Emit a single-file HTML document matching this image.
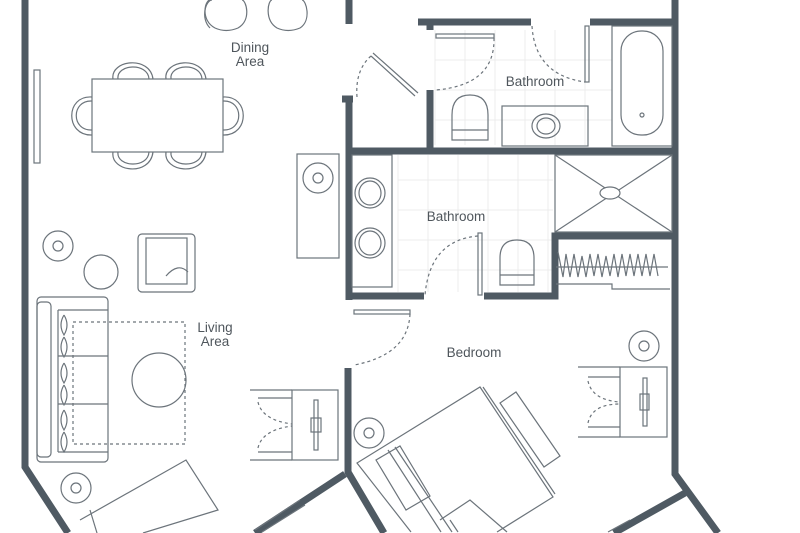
<!DOCTYPE html>
<html><head><meta charset="utf-8"><style>
html,body{margin:0;padding:0;background:#fff;width:800px;height:533px;overflow:hidden;}
svg{display:block;}
text{font-family:"Liberation Sans",sans-serif;font-size:13.5px;fill:#4f565c;text-anchor:middle;}
</style></head><body>
<svg width="800" height="533" viewBox="0 0 800 533" xmlns="http://www.w3.org/2000/svg" overflow="hidden">
<g stroke="#ececec" stroke-width="1">
<path d="M435 30V145M465 30V145M495 30V145M525 30V145M555 30V145M585 30V145M435 60H612M435 90H612M435 120H612"/>
<path d="M398 155V292M428 155V292M458 155V292M488 155V292M518 155V292M548 155V292M398 180H553M398 210H553M398 240H553M398 270H553"/>
</g>
<g fill="none" stroke="#4f5a63" stroke-width="7" stroke-linejoin="miter">
<path d="M25 0V467L68 533"/>
<path d="M349 0V24"/>
<path d="M418 22H531M590 22H676"/>
<path d="M675 0V474L718 533"/>
<path d="M685 493L614 533"/>
<path d="M349 97V300M342 99H353"/>
<path d="M430 22V30M430 90V148"/>
<path d="M349 151H675"/>
<path d="M349 296H424M484 296H555V236H675"/>
<path d="M348 368V472L384 533"/>
<path d="M345 474L255 533"/>
</g>
<g fill="none" stroke="#6c747b" stroke-width="1.2">
<path d="M215 28C200 20 205 0 210 0M238 28C252 20 246 0 242 0M215 28Q226 33 238 28"/>
<path d="M210 28C200 18 206 0 212 0"/>
<path d="M277 28C264 20 268 0 272 0M300 28C312 20 306 0 302 0M277 28Q288 33 300 28"/>
<rect x="92" y="79" width="131" height="73"/>
<path d="M113 79C110 60 150 55 153 79M118 79C116 64 148 62 149 79"/>
<path d="M166 79C163 60 203 55 206 79M171 79C169 64 201 62 202 79"/>
<path d="M113 152C110 172 150 177 153 152M118 152C116 167 148 169 149 152"/>
<path d="M166 152C163 172 203 177 206 152M171 152C169 167 201 169 202 152"/>
<path d="M92 97C65 95 65 136 92 135M92 101C71 100 71 131 92 130"/>
<path d="M223 97C250 95 250 136 223 135M223 101C244 100 244 131 223 130"/>
<rect x="34" y="70" width="6" height="93"/>
<rect x="297" y="154" width="42" height="104"/>
<circle cx="318" cy="178" r="15"/><circle cx="318" cy="178" r="5"/>
<circle cx="58" cy="246" r="15"/><circle cx="58" cy="246" r="5"/>
<circle cx="101" cy="272" r="17"/>
<rect x="138" y="234" width="57" height="58" rx="4"/>
<rect x="146" y="238" width="41" height="46"/>
<path d="M166 276Q178 262 188 272"/>
<rect x="37" y="297" width="71" height="165" rx="4"/>
<rect x="37" y="302" width="14" height="155" rx="4"/>
<path d="M58 310V452M58 310H108M58 356H108M58 404H108M58 452H108"/>
<path d="M64 315q6 10 0 20q-6-10 0-20M64 337q6 10 0 20q-6-10 0-20M64 363q6 10 0 20q-6-10 0-20M64 385q6 10 0 20q-6-10 0-20M64 410q6 10 0 20q-6-10 0-20M64 432q6 10 0 20q-6-10 0-20"/>
<rect x="73" y="322" width="112" height="122" stroke-dasharray="3 3"/>
<circle cx="159" cy="380" r="27"/>
<rect x="292" y="390" width="46" height="70"/>
<path d="M250 390H292M250 460H292M258 398H292M258 452H292"/>
<path d="M258 402Q262 420 292 424M258 448Q262 430 292 426" stroke-dasharray="3 3"/>
<rect x="314" y="400" width="4" height="50"/><rect x="311" y="418" width="10" height="14"/>
<circle cx="76" cy="488" r="15"/><circle cx="76" cy="488" r="5"/>
<path d="M80 520L186 460L218 510L143 533"/>
<path d="M90 510L97 533"/>
<path d="M300 500L255 530M305 505L262 532"/>
<path d="M630 520L608 532"/>
<rect x="436" y="34" width="58" height="4"/>
<path d="M494 38Q495 85 436 90" stroke-dasharray="3 3"/>
<path d="M532 26Q535 75 585 82" stroke-dasharray="3 3"/>
<rect x="585" y="26" width="4" height="56"/>
<path d="M371 56L415 96M373 53L418 93"/>
<path d="M371 56Q355 70 357 97" stroke-dasharray="3 3"/>
<path d="M452 140V115Q452 95 470 95Q488 95 488 115V140Z M452 130H488"/>
<rect x="502" y="106" width="86" height="40"/>
<ellipse cx="546" cy="126" rx="14" ry="12"/><ellipse cx="546" cy="126" rx="9" ry="8"/>
<rect x="612" y="26" width="60" height="120"/>
<rect x="621" y="31" width="42" height="104" rx="20"/>
<circle cx="642" cy="115" r="2"/>
<rect x="352" y="155" width="40" height="132"/>
<ellipse cx="370" cy="193" rx="15" ry="15"/><ellipse cx="370" cy="193" rx="11" ry="12"/>
<ellipse cx="370" cy="243" rx="15" ry="15"/><ellipse cx="370" cy="243" rx="11" ry="12"/>
<rect x="478" y="233" width="4" height="62"/>
<path d="M478 236Q430 240 425 295" stroke-dasharray="3 3"/>
<path d="M500 285V258Q500 240 517 240Q534 240 534 258V285Z M500 275H534"/>
<rect x="555" y="155" width="117" height="77"/>
<path d="M555 155L672 232M672 155L555 232"/>
<ellipse cx="610" cy="193" rx="10" ry="6" fill="#fff"/>
<path d="M556 267H668M558 252L563 277L566 254L570 277L574 254L578 277L582 256L586 277L590 254L594 276L598 254L602 277L606 256L610 276L614 254L618 277L622 254L626 276L630 254L634 276L638 254L642 276L646 254L650 276L654 254L658 276"/>
<path d="M556 284H612V289H670"/>
<rect x="354" y="310" width="56" height="4"/>
<path d="M410 314Q408 355 354 365" stroke-dasharray="3 3"/>
<circle cx="644" cy="346" r="15"/><circle cx="644" cy="346" r="5"/>
<rect x="620" y="367" width="47" height="70"/>
<path d="M578 367H620M578 437H620M588 377H620M588 427H620"/>
<path d="M588 381Q592 400 620 402M588 423Q592 404 620 404" stroke-dasharray="3 3"/>
<rect x="643" y="378" width="4" height="48"/><rect x="640" y="394" width="9" height="16"/>
<circle cx="369" cy="433" r="15"/><circle cx="369" cy="433" r="5"/>
<path d="M411 532L357 463L480 387L553 497L497 532"/>
<path d="M388 450L441 532M395 447L452 532"/>
<path d="M483 387L555 494"/>
<path d="M516 392L560 456L544 467L500 403Z"/>
<path d="M376 460L400 446L430 496L406 510Z"/>
<path d="M450 520L458 532M440 520L470 500L507 532"/>
</g>
<text x="250" y="52">Dining</text><text x="250" y="66">Area</text>
<text x="535" y="86">Bathroom</text>
<text x="456" y="221">Bathroom</text>
<text x="215" y="332">Living</text><text x="215" y="346">Area</text>
<text x="474" y="357">Bedroom</text>
</svg>
</body></html>
